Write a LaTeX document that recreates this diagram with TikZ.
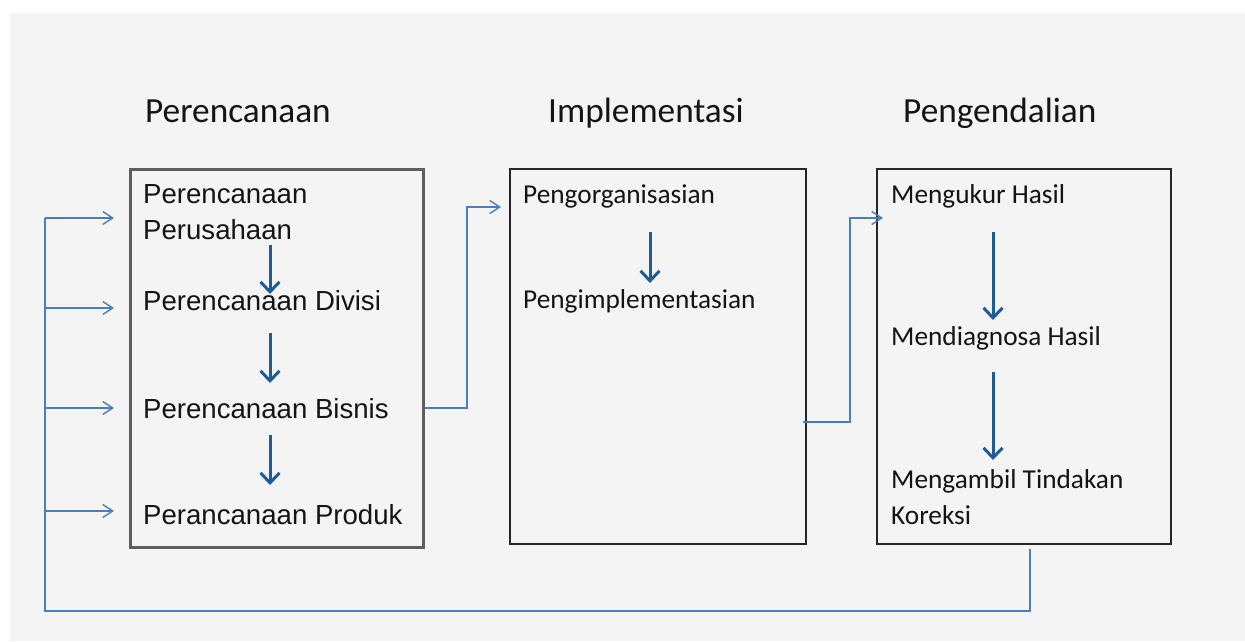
\documentclass[tikz,border=0pt]{standalone}
\usepackage{fontspec}
\setmainfont{Liberation Sans}
\newfontfamily\calfont{Carlito}
\usetikzlibrary{arrows.meta}
\definecolor{panelgrey}{HTML}{F4F4F4}
\definecolor{linkblue}{HTML}{4A7EBB}
\definecolor{flowblue}{HTML}{1F5A99}
\definecolor{frameA}{HTML}{5E5E5E}
\definecolor{frameB}{HTML}{262626}
\definecolor{ink}{HTML}{141414}
\tikzset{
  heading/.style={anchor=base west, inner sep=0pt, text=ink, font=\calfont\fontsize{35.3}{40}\selectfont},
  planitem/.style={anchor=base west, inner sep=0pt, text=ink, font=\fontsize{27.6}{33}\selectfont},
  stageitem/.style={anchor=base west, inner sep=0pt, text=ink, font=\calfont\fontsize{27.3}{33}\selectfont},
  planbox/.style={draw=frameA, line width=3pt, inner sep=0pt, anchor=north west},
  stagebox/.style={draw=frameB, line width=1.5pt, inner sep=0pt, anchor=north west},
  link/.style={draw=linkblue, line width=1.7pt},
  linkarrow/.style={link, -{Straight Barb[length=10pt,width=13pt,line width=1.4pt]}},
  flow/.style={draw=flowblue, line width=3pt, -{Straight Barb[length=10pt,width=19pt]}},
}
\begin{document}
\begin{tikzpicture}[x=1pt, y=-1pt]
  % canvas and panel
  \useasboundingbox (0,0) rectangle (1245,641);
  \fill[white] (0,0) rectangle (1245,641);
  \fill[panelgrey] (10,13) rectangle (1245,641);

  % stage headings
  \node[heading] (hPlan) at (145,122) {Perencanaan};
  \node[heading] (hImpl) at (548,122) {Implementasi};
  \node[heading] (hCtrl) at (903,122) {Pengendalian};

  % stage frames
  \node[planbox, minimum width=293pt, minimum height=378pt] (bPlan) at (129,168) {};
  \node[stagebox, minimum width=296pt, minimum height=375pt] (bImpl) at (509,168) {};
  \node[stagebox, minimum width=294pt, minimum height=375pt] (bCtrl) at (876,168) {};

  % planning steps
  \node[planitem] (p1a) at (143,203) {Perencanaan};
  \node[planitem] (p1b) at (143,239) {Perusahaan};
  \node[planitem] (p2) at (143,310) {Perencanaan Divisi};
  \node[planitem] (p3) at (143,418) {Perencanaan Bisnis};
  \node[planitem] (p4) at (143,524) {Perancanaan Produk};

  % implementation steps
  \node[stageitem] (i1) at (523,203) {Pengorganisasian};
  \node[stageitem] (i2) at (523,308) {Pengimplementasian};

  % control steps
  \node[stageitem] (c1) at (891,203) {Mengukur Hasil};
  \node[stageitem] (c2) at (891,345) {Mendiagnosa Hasil};
  \node[stageitem] (c3a) at (891,488) {Mengambil Tindakan};
  \node[stageitem] (c3b) at (891,524) {Koreksi};

  % flow arrows inside the frames
  \coordinate (fa1) at (270,245); \coordinate (fa2) at (270,294);
  \coordinate (fb1) at (270,333); \coordinate (fb2) at (270,383);
  \coordinate (fc1) at (270,435); \coordinate (fc2) at (270,485);
  \draw[flow] (fa1) -- (fa2);
  \draw[flow] (fb1) -- (fb2);
  \draw[flow] (fc1) -- (fc2);

  \coordinate (ga1) at (650,232); \coordinate (ga2) at (650,283);
  \draw[flow] (ga1) -- (ga2);

  \coordinate (ha1) at (993,232); \coordinate (ha2) at (993,320);
  \coordinate (hb1) at (993,372); \coordinate (hb2) at (993,460);
  \draw[flow] (ha1) -- (ha2);
  \draw[flow] (hb1) -- (hb2);

  % planning -> implementation
  \coordinate (j1) at (467,408);
  \coordinate (j2) at (467,207);
  \coordinate (jt) at (501,207);
  \draw[linkarrow] (bPlan.east |- j1) -- (j1) -- (j2) -- (jt);

  % implementation -> control
  \coordinate (k0) at (803,422);
  \coordinate (k1) at (850,422);
  \coordinate (k2) at (850,218);
  \coordinate (kt) at (883,218);
  \draw[linkarrow] (k0) -- (k1) -- (k2) -- (kt);

  % feedback from control back to every planning level
  \coordinate (r0) at (1030,549);
  \coordinate (r1) at (1030,611);
  \coordinate (r2) at (45,611);
  \coordinate (r3) at (45,218);
  \draw[link] (r0) -- (r1) -- (r2) -- (r3);
  \coordinate (t1) at (114,218);
  \coordinate (s2) at (45,308); \coordinate (t2) at (114,308);
  \coordinate (s3) at (45,408); \coordinate (t3) at (114,408);
  \coordinate (s4) at (45,511); \coordinate (t4) at (114,511);
  \draw[linkarrow] (r3) -- (t1);
  \draw[linkarrow] (s2) -- (t2);
  \draw[linkarrow] (s3) -- (t3);
  \draw[linkarrow] (s4) -- (t4);
\end{tikzpicture}
\end{document}
